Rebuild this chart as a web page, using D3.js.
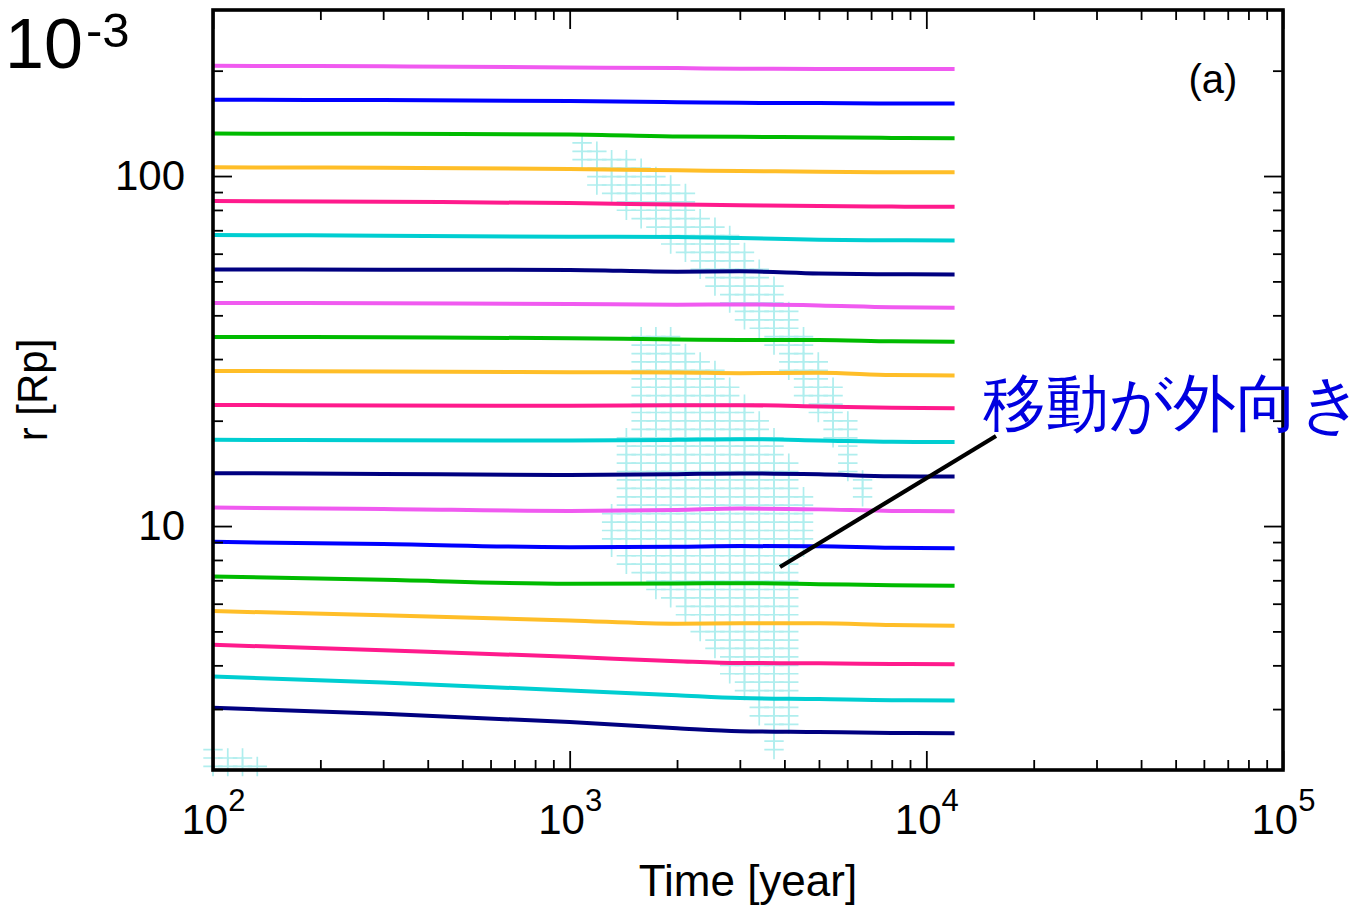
<!DOCTYPE html>
<html>
<head>
<meta charset="utf-8">
<script src="https://cdn.jsdelivr.net/npm/d3@7/dist/d3.min.js"></script>
<style>
  html, body { margin: 0; padding: 0; background: #fff; }
  svg { display: block; }
  text { font-family: "Liberation Sans", Arial, Helvetica, sans-serif; fill: #000; }
</style>
</head>
<body>
<svg id="chart" width="1366" height="905"></svg>
<script>
// Sample times [year] shared by every orbit track
const timePoints = [100, 300, 1000, 2000, 3000, 5000, 8000, 12000];

// Orbital radius r [Rp] of each tracked body, outermost first
const track01 = [206.5, 205.8, 204.3, 203.4, 202.6, 202.3, 202.1, 202.1];
const track02 = [165.1, 164.8, 163.7, 162.6, 161.9, 161.6, 161.2, 161.2];
const track03 = [132.2, 132.0, 131.5, 129.8, 129.4, 129.0, 128.5, 128.3];
const track04 = [105.9, 105.6, 104.7, 103.8, 103.4, 102.8, 102.5, 102.5];
const track05 = [84.8, 84.4, 83.7, 82.9, 82.5, 82.1, 81.8, 81.7];
const track06 = [67.85, 67.54, 67.09, 66.96, 66.52, 65.79, 65.53, 65.44];
const track07 = [54.08, 54.01, 53.90, 53.30, 53.44, 52.68, 52.40, 52.33];
const track08 = [43.39, 43.30, 43.11, 42.88, 42.96, 42.68, 42.18, 42.07];
const track09 = [34.70, 34.63, 34.40, 34.13, 34.02, 34.02, 33.73, 33.64];
const track10 = [27.74, 27.65, 27.51, 27.47, 27.33, 27.42, 27.02, 26.93];
const track11 = [22.19, 22.12, 22.07, 22.15, 22.15, 21.97, 21.76, 21.71];
const track12 = [17.63, 17.59, 17.55, 17.63, 17.71, 17.57, 17.40, 17.37];
const track13 = [14.16, 14.09, 14.00, 14.07, 14.14, 14.05, 13.88, 13.85];
const track14 = [11.29, 11.19, 11.05, 11.12, 11.22, 11.16, 11.05, 11.03];
const track15 = [9.013, 8.884, 8.705, 8.733, 8.768, 8.750, 8.664, 8.647];
const track16 = [7.175, 7.021, 6.839, 6.848, 6.870, 6.825, 6.772, 6.750];
const track17 = [5.715, 5.559, 5.372, 5.258, 5.275, 5.275, 5.213, 5.189];
const track18 = [4.579, 4.416, 4.232, 4.109, 4.061, 4.056, 4.037, 4.029];
const track19 = [3.718, 3.571, 3.391, 3.286, 3.226, 3.205, 3.180, 3.176];
const track20 = [3.026, 2.909, 2.755, 2.645, 2.593, 2.579, 2.564, 2.559];

const tracks = [track01, track02, track03, track04, track05, track06, track07,
                track08, track09, track10, track11, track12, track13, track14,
                track15, track16, track17, track18, track19, track20];

const trackColors = ["#f05af0", "#0000ff", "#00bb00", "#ffbe28", "#ff1a8c", "#00ced1", "#000080",
                     "#f05af0", "#00bb00", "#ffbe28", "#ff1a8c", "#00ced1", "#000080",
                     "#f05af0", "#0000ff", "#00bb00", "#ffbe28", "#ff1a8c", "#00ced1", "#000080"];

// Grid of (time, radius) cells where migration points outward.
// Cell (row j, column k) sits at r = cellR0 * cellRStep^j, t = cellT0 * cellTStep^k.
const cellT0 = 100, cellTStep = 1.1;
const cellR0 = 2.057, cellRStep = 1.057;
// [row, first column, last column]
const outwardCells = [
  [74,25,25],[73,25,26],[72,25,28],[71,26,29],[70,26,30],[69,26,31],[68,27,32],[67,28,32],
  [66,28,32],[65,29,33],[64,30,34],[63,31,35],[62,31,35],[61,32,36],[60,33,36],[59,33,37],
  [58,34,37],[57,34,38],[56,35,38],[55,35,38],[54,36,39],[53,36,39],[52,37,39],[51,38,40],
  [50,38,40],[49,39,40],[48,39,41],[47,39,41],[46,40,41],[45,40,42],[44,40,42],[43,41,42],
  [42,41,42],[41,42,43],[40,42,43],[39,42,43],[38,43,43],[37,43,43],[36,43,43],[35,43,43],
  [34,44,44],[33,44,44],[32,44,44],
  [51,29,31],[50,29,31],[49,29,32],[48,29,33],[47,29,34],[46,29,34],[45,29,35],[44,29,35],
  [43,29,36],[42,29,36],[41,29,37],[40,29,37],[39,28,38],[38,28,38],[37,28,38],[36,28,39],
  [35,28,39],[34,28,39],[33,28,39],[32,28,40],[31,28,40],[30,27,40],[29,27,40],[28,27,40],
  [27,27,40],[26,27,40],[25,28,39],[24,28,39],[23,29,39],[22,30,39],[21,30,39],[20,31,39],
  [19,32,39],[18,32,39],[17,33,39],[16,33,39],[15,34,39],[14,34,39],[13,35,39],[12,35,39],
  [11,35,39],[10,36,39],[9,36,39],[8,37,39],[7,37,39],[6,37,39],[5,38,39],[4,38,38],
  [3,38,38],[2,38,38],
  [2,0,0],[1,0,2],[0,0,3]
];

// Axis ticks
const xMajorTicks = [1e2, 1e3, 1e4, 1e5];
const xMajorExponents = ["2", "3", "4", "5"];
const xMinorTicks = [2e2,3e2,4e2,5e2,6e2,7e2,8e2,9e2, 2e3,3e3,4e3,5e3,6e3,7e3,8e3,9e3, 2e4,3e4,4e4,5e4,6e4,7e4,8e4,9e4];
const yMajorTicks = [10, 100];
const yMajorLabels = ["10", "100"];
const yMinorTicks = [3,4,5,6,7,8,9, 20,30,40,50,60,70,80,90, 200];

const svg = d3.select("#chart");
const plot = { left: 213, right: 1283, top: 10, bottom: 770 };

const x = d3.scaleLog().domain([1e2, 1e5]).range([plot.left, plot.right]);
const y = d3.scaleLog().domain([2.0094, 298.1]).range([plot.bottom, plot.top]);

// Outward-migration cells, drawn as light cyan crosses
const cellPoints = [];
outwardCells.forEach(([j, k0, k1]) => {
  for (let k = k0; k <= k1; k++) {
    cellPoints.push({ t: cellT0 * Math.pow(cellTStep, k), r: cellR0 * Math.pow(cellRStep, j) });
  }
});
const arm = 9.7;
svg.append("g")
  .selectAll("path")
  .data(cellPoints)
  .join("path")
  .attr("d", d => {
    const cx = x(d.t), cy = y(d.r);
    return `M${cx - arm},${cy}H${cx + arm}M${cx},${cy - arm}V${cy + arm}`;
  })
  .attr("fill", "none")
  .attr("stroke", "#b0eeee")
  .attr("stroke-width", 1.7);

// Orbit tracks
const line = d3.line()
  .x(d => x(d.t))
  .y(d => y(d.r))
  .curve(d3.curveMonotoneX);

svg.append("g")
  .selectAll("path")
  .data(tracks)
  .join("path")
  .attr("d", vals => line(vals.map((r, i) => ({ t: timePoints[i], r }))))
  .attr("fill", "none")
  .attr("stroke", (d, i) => trackColors[i])
  .attr("stroke-width", 4)
  .attr("stroke-linecap", "butt");

// Axes: major and minor ticks, pointing inward on all four sides
function styleAxis(g) {
  g.select(".domain").remove();
  g.selectAll(".tick line").attr("stroke", "#000").attr("stroke-width", 1.8);
}
const majorLen = 19, minorLen = 10;

const gxB = svg.append("g").attr("transform", `translate(0,${plot.bottom})`)
  .call(d3.axisBottom(x).tickValues(xMajorTicks).tickSizeInner(-majorLen).tickSizeOuter(0).tickFormat(() => ""));
styleAxis(gxB);
gxB.selectAll(".tick text").remove();
gxB.selectAll(".tick").each(function (d, i) {
  const t = d3.select(this).append("text")
    .attr("x", 0).attr("y", 64)
    .attr("text-anchor", "middle")
    .attr("font-size", 42);
  t.append("tspan").text("10");
  t.append("tspan").attr("dy", -23).attr("font-size", 31).text(xMajorExponents[i]);
});
styleAxis(svg.append("g").attr("transform", `translate(0,${plot.bottom})`)
  .call(d3.axisBottom(x).tickValues(xMinorTicks).tickSizeInner(-minorLen).tickSizeOuter(0).tickFormat(() => "")));

styleAxis(svg.append("g").attr("transform", `translate(0,${plot.top})`)
  .call(d3.axisTop(x).tickValues(xMajorTicks).tickSizeInner(-majorLen).tickSizeOuter(0).tickFormat(() => "")));
styleAxis(svg.append("g").attr("transform", `translate(0,${plot.top})`)
  .call(d3.axisTop(x).tickValues(xMinorTicks).tickSizeInner(-minorLen).tickSizeOuter(0).tickFormat(() => "")));

const gyL = svg.append("g").attr("transform", `translate(${plot.left},0)`)
  .call(d3.axisLeft(y).tickValues(yMajorTicks).tickSizeInner(-majorLen).tickSizeOuter(0).tickPadding(28)
    .tickFormat((d, i) => yMajorLabels[i]));
styleAxis(gyL);
gyL.selectAll(".tick text")
  .attr("font-size", 42)
  .attr("font-family", "'Liberation Sans', Arial, sans-serif")
  .attr("fill", "#000");
styleAxis(svg.append("g").attr("transform", `translate(${plot.left},0)`)
  .call(d3.axisLeft(y).tickValues(yMinorTicks).tickSizeInner(-minorLen).tickSizeOuter(0).tickFormat(() => "")));

styleAxis(svg.append("g").attr("transform", `translate(${plot.right},0)`)
  .call(d3.axisRight(y).tickValues(yMajorTicks).tickSizeInner(-majorLen).tickSizeOuter(0).tickFormat(() => "")));
styleAxis(svg.append("g").attr("transform", `translate(${plot.right},0)`)
  .call(d3.axisRight(y).tickValues(yMinorTicks).tickSizeInner(-minorLen).tickSizeOuter(0).tickFormat(() => "")));

// Plot frame
svg.append("rect")
  .attr("x", plot.left).attr("y", plot.top)
  .attr("width", plot.right - plot.left).attr("height", plot.bottom - plot.top)
  .attr("fill", "none").attr("stroke", "#000").attr("stroke-width", 3.6);

// Axis titles
svg.append("text")
  .attr("x", 748).attr("y", 896)
  .attr("text-anchor", "middle")
  .attr("font-size", 44)
  .text("Time [year]");

svg.append("text")
  .attr("transform", "translate(47,390) rotate(-90)")
  .attr("text-anchor", "middle")
  .attr("font-size", 42)
  .text("r [Rp]");

// Panel tag
svg.append("text")
  .attr("x", 1213).attr("y", 93)
  .attr("text-anchor", "middle")
  .attr("font-size", 40)
  .text("(a)");

// Scale factor in the top-left corner
svg.append("text").attr("x", 5).attr("y", 68).attr("font-size", 70).text("10");
svg.append("text").attr("x", 86).attr("y", 47).attr("font-size", 49).text("-3");

// Callout for the outward-migration region
svg.append("line")
  .attr("x1", 780).attr("y1", 567)
  .attr("x2", 996).attr("y2", 436)
  .attr("stroke", "#000").attr("stroke-width", 4.2);

svg.append("text")
  .attr("x", 983).attr("y", 425)
  .attr("font-family", "'Noto Sans CJK JP', 'Noto Sans CJK SC', sans-serif")
  .attr("font-size", 63)
  .style("fill", "#0000e0")
  .text("移動が外向き");
</script>
</body>
</html>
